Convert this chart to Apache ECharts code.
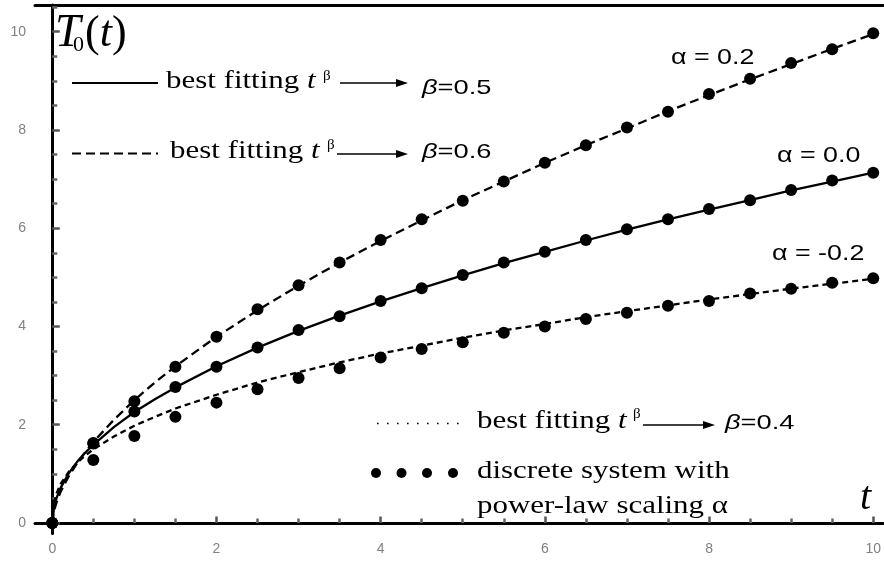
<!DOCTYPE html>
<html><head><meta charset="utf-8">
<script src="https://cdn.jsdelivr.net/npm/echarts@6/dist/echarts.min.js"></script>
<style>html,body{margin:0;padding:0;background:#fff}#c{width:884px;height:564px}</style>
</head><body><div id="c"></div>
<script>
// ---- data ----
const tDiscrete = [0, 0.5, 1, 1.5, 2, 2.5, 3, 3.5, 4, 4.5, 5, 5.5, 6, 6.5, 7, 7.5, 8, 8.5, 9, 9.5, 10];
const discreteAlphaP02 = [0, 1.63, 2.48, 3.18, 3.79, 4.35, 4.84, 5.30, 5.76, 6.18, 6.56, 6.95, 7.33, 7.69, 8.05, 8.37, 8.73, 9.04, 9.36, 9.64, 9.97];
const discreteAlpha00 = [0, 1.62, 2.27, 2.77, 3.18, 3.57, 3.93, 4.21, 4.52, 4.78, 5.05, 5.30, 5.52, 5.76, 5.98, 6.18, 6.39, 6.57, 6.78, 6.97, 7.13];
const discreteAlphaM02 = [0, 1.28, 1.77, 2.16, 2.45, 2.72, 2.95, 3.15, 3.37, 3.54, 3.68, 3.87, 4.00, 4.15, 4.28, 4.42, 4.52, 4.67, 4.77, 4.89, 4.98];

const tFit = [0, 0.02, 0.05, 0.1, 0.2, 0.3, 0.4, 0.5, 0.75, 1, 1.25, 1.5, 2, 2.5, 3, 3.5, 4, 4.5, 5, 5.5, 6, 6.5, 7, 7.5, 8, 8.5, 9, 9.5, 10];
const fitBeta06 = [0, 0.24, 0.41, 0.63, 0.95, 1.21, 1.44, 1.65, 2.10, 2.50, 2.86, 3.19, 3.79, 4.33, 4.83, 5.30, 5.74, 6.16, 6.57, 6.95, 7.33, 7.69, 8.03, 8.38, 8.71, 9.03, 9.34, 9.65, 9.95];
const fitBeta05 = [0, 0.32, 0.50, 0.71, 1.01, 1.24, 1.43, 1.59, 1.95, 2.26, 2.52, 2.76, 3.19, 3.57, 3.91, 4.22, 4.51, 4.78, 5.04, 5.29, 5.52, 5.75, 5.97, 6.18, 6.38, 6.57, 6.77, 6.95, 7.13];
const fitBeta04 = [0, 0.41, 0.60, 0.79, 1.04, 1.22, 1.37, 1.50, 1.76, 1.98, 2.16, 2.33, 2.61, 2.86, 3.07, 3.27, 3.45, 3.61, 3.77, 3.92, 4.05, 4.19, 4.31, 4.43, 4.55, 4.66, 4.77, 4.87, 4.97];

const xMajorTicks = [0, 2, 4, 6, 8, 10];
const xMinorTicks = [0.5, 1, 1.5, 2.5, 3, 3.5, 4.5, 5, 5.5, 6.5, 7, 7.5, 8.5, 9, 9.5];
const yMajorTicks = [0, 2, 4, 6, 8, 10];
const yMinorTicks = [0.5, 1, 1.5, 2.5, 3, 3.5, 4.5, 5, 5.5, 6.5, 7, 7.5, 8.5, 9, 9.5, 10.5];

const alphaLabels = ['α = 0.2', 'α = 0.0', 'α = -0.2'];
const fitLabel = 'best fitting ';
const betaLabels = ['=0.5', '=0.6', '=0.4'];
const discreteLabel1 = 'discrete system with';
const discreteLabel2 = 'power-law scaling α';

// ---- chart ----
const X_MIN = -0.2105, X_MAX = 10.122, Y_MIN = -0.2137, Y_MAX = 10.543;
const SERIF = 'Liberation Serif';
const SANS = 'Liberation Sans';

function pairs(xs, ys) { return xs.map((x, i) => [x, ys[i]]); }

const baseX = { type: 'value', min: X_MIN, max: X_MAX, splitLine: { show: false } };
const baseY = { type: 'value', min: Y_MIN, max: Y_MAX, splitLine: { show: false } };

function fitText(x, y) {
  return {
    type: 'text', x: x, y: y, scaleX: 1.19,
    style: {
      text: '{r|' + fitLabel + '}{i|t}',
      rich: {
        r: { font: '26px "' + SERIF + '"', fill: '#000' },
        i: { font: 'italic 26px "' + SERIF + '"', fill: '#000' }
      },
      fill: '#000', verticalAlign: 'middle', align: 'left'
    }
  };
}
function supBeta(x, y) {
  return { type: 'text', x: x, y: y, style: { text: 'β', font: '15px "' + SERIF + '"', fill: '#000', verticalAlign: 'middle', align: 'left' } };
}
function arrow(x1, x2, y) {
  return [
    { type: 'line', shape: { x1: x1, y1: y, x2: x2 - 9, y2: y }, style: { stroke: '#000', lineWidth: 1.3 } },
    { type: 'polygon', shape: { points: [[x2 - 12, y - 4], [x2, y], [x2 - 12, y + 4]] }, style: { fill: '#000' } }
  ];
}
function betaText(x, y, label) {
  return {
    type: 'text', x: x, y: y, scaleX: 1.3,
    style: {
      text: '{g|β}{n|' + label + '}',
      rich: {
        g: { font: 'italic 21px "' + SANS + '"', fill: '#000' },
        n: { font: '21px "' + SANS + '"', fill: '#000' }
      },
      verticalAlign: 'middle', align: 'left'
    }
  };
}
function alphaText(x, y, label) {
  return { type: 'text', x: x, y: y, scaleX: 1.22, style: { text: label, font: '22px "' + SANS + '"', fill: '#000', verticalAlign: 'middle', align: 'left' } };
}

const graphics = [].concat(
  [
    { type: 'text', x: 55, y: 34, style: { text: 'T', font: 'italic 46px "' + SERIF + '"', fill: '#000', verticalAlign: 'middle', align: 'left' } },
    { type: 'text', x: 73, y: 45, style: { text: '0', font: '22px "' + SERIF + '"', fill: '#000', verticalAlign: 'middle', align: 'left' } },
    { type: 'text', x: 85, y: 34, style: { text: '{p|(}{i|t}{p|)}', rich: { p: { font: '44px "' + SERIF + '"', fill: '#000' }, i: { font: 'italic 44px "' + SERIF + '"', fill: '#000' } }, verticalAlign: 'middle', align: 'left' } },
    { type: 'text', x: 860, y: 498, style: { text: 't', font: 'italic 40px "' + SERIF + '"', fill: '#000', verticalAlign: 'middle', align: 'left' } },
    // legend 1: solid
    { type: 'line', shape: { x1: 72, y1: 83, x2: 158, y2: 83 }, style: { stroke: '#000', lineWidth: 2 } },
    fitText(166, 81), supBeta(323, 76), betaText(422, 88, betaLabels[0]),
    // legend 2: dashed
    { type: 'line', shape: { x1: 72, y1: 153.5, x2: 158, y2: 153.5 }, style: { stroke: '#000', lineWidth: 2, lineDash: [9, 5] } },
    fitText(170, 151), supBeta(327, 145), betaText(422, 152.5, betaLabels[1]),
    // legend 3: dotted
    { type: 'line', shape: { x1: 377, y1: 423.5, x2: 460, y2: 423.5 }, style: { stroke: '#000', lineWidth: 1.6, lineDash: [1.6, 8.4] } },
    fitText(477, 421), supBeta(633, 414), betaText(725, 423, betaLabels[2]),
    // legend 4: dots
    { type: 'circle', shape: { cx: 376, cy: 473, r: 5 }, style: { fill: '#000' } },
    { type: 'circle', shape: { cx: 401.5, cy: 473, r: 5 }, style: { fill: '#000' } },
    { type: 'circle', shape: { cx: 427, cy: 473, r: 5 }, style: { fill: '#000' } },
    { type: 'circle', shape: { cx: 453, cy: 473, r: 5 }, style: { fill: '#000' } },
    { type: 'text', x: 477, y: 471, scaleX: 1.19, style: { text: discreteLabel1, font: '26px "' + SERIF + '"', fill: '#000', verticalAlign: 'middle', align: 'left' } },
    { type: 'text', x: 477, y: 506, scaleX: 1.19, style: { text: discreteLabel2, font: '26px "' + SERIF + '"', fill: '#000', verticalAlign: 'middle', align: 'left' } },
    alphaText(671, 58, alphaLabels[0]),
    alphaText(777, 156, alphaLabels[1]),
    alphaText(772, 254, alphaLabels[2])
  ],
  arrow(340, 408, 83),
  arrow(337, 408, 154),
  arrow(643, 715, 425)
);

const option = {
  animation: false,
  backgroundColor: '#fff',
  grid: { left: 35, right: 0, top: 5, bottom: 30.5, containLabel: false },
  xAxis: [
    Object.assign({}, baseX, {
      position: 'bottom',
      axisLine: { show: true, lineStyle: { color: '#000', width: 3 } },
      axisTick: { show: true, inside: true, length: 6.5, customValues: xMajorTicks, lineStyle: { color: '#555', width: 2.5 } },
      axisLabel: { show: true, customValues: xMajorTicks, color: '#808080', fontSize: 14, fontFamily: SANS, margin: 9 }
    }),
    Object.assign({}, baseX, {
      position: 'bottom',
      axisLine: { show: false },
      axisTick: { show: true, inside: true, length: 4.5, customValues: xMinorTicks, lineStyle: { color: '#666', width: 2.5 } },
      axisLabel: { show: false }
    }),
    Object.assign({}, baseX, {
      position: 'top',
      axisLine: { show: true, lineStyle: { color: '#000', width: 3 } },
      axisTick: { show: false }, axisLabel: { show: false }
    })
  ],
  yAxis: [
    Object.assign({}, baseY, {
      position: 'left',
      axisLine: { show: true, lineStyle: { color: '#000', width: 3 } },
      axisTick: { show: true, inside: true, length: 7.5, customValues: yMajorTicks, lineStyle: { color: '#555', width: 2.5 } },
      axisLabel: { show: true, customValues: yMajorTicks, color: '#808080', fontSize: 14, fontFamily: SANS, margin: 9 }
    }),
    Object.assign({}, baseY, {
      position: 'left',
      axisLine: { show: false },
      axisTick: { show: true, inside: true, length: 5, customValues: yMinorTicks, lineStyle: { color: '#666', width: 2.5 } },
      axisLabel: { show: false }
    })
  ],
  series: [
    { type: 'line', name: 'fit β=0.6', data: pairs(tFit, fitBeta06), showSymbol: false, smooth: false,
      lineStyle: { color: '#000', width: 2.3, type: [9, 5] }, z: 2 },
    { type: 'line', name: 'fit β=0.5', data: pairs(tFit, fitBeta05), showSymbol: false, smooth: false,
      lineStyle: { color: '#000', width: 2.3, type: 'solid' }, z: 2 },
    { type: 'line', name: 'fit β=0.4', data: pairs(tFit, fitBeta04), showSymbol: false, smooth: false,
      lineStyle: { color: '#000', width: 2.3, type: [6, 4] }, z: 2 },
    { type: 'scatter', name: 'α = 0.2', data: pairs(tDiscrete, discreteAlphaP02), symbol: 'circle', symbolSize: 12, itemStyle: { color: '#000', opacity: 1 }, z: 5 },
    { type: 'scatter', name: 'α = 0.0', data: pairs(tDiscrete, discreteAlpha00), symbol: 'circle', symbolSize: 12, itemStyle: { color: '#000', opacity: 1 }, z: 5 },
    { type: 'scatter', name: 'α = -0.2', data: pairs(tDiscrete, discreteAlphaM02), symbol: 'circle', symbolSize: 12, itemStyle: { color: '#000', opacity: 1 }, z: 5 }
  ],
  graphic: graphics
};

const chart = echarts.init(document.getElementById('c'), null, { renderer: 'canvas' });
chart.setOption(option);
</script>
</body></html>
